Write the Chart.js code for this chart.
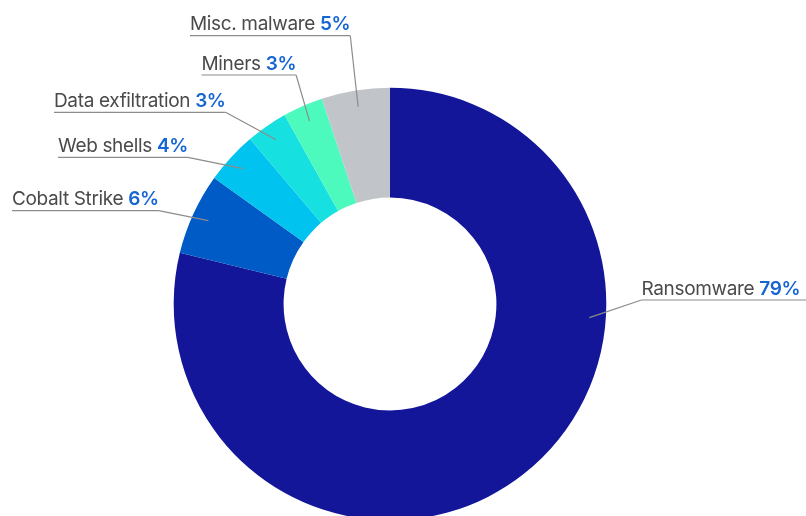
<!DOCTYPE html>
<html>
<head>
<meta charset="utf-8">
<script src="https://cdn.jsdelivr.net/npm/chart.js@4"></script>
<style>
  html, body { margin: 0; padding: 0; background: #fff; overflow: hidden; }
  #wrap { width: 806px; height: 516px; position: relative; }
  canvas { display: block; }
</style>
</head>
<body>
<div id="wrap"><canvas id="c" width="806" height="516"></canvas></div>
<script>
// ---- data ----
const categories = ['Ransomware', 'Cobalt Strike', 'Web shells', 'Data exfiltration', 'Miners', 'Misc. malware'];
const values = [78.8, 6.1, 3.9, 3.1, 3.0, 5.1];
const pctLabels = ['79%', '6%', '4%', '3%', '3%', '5%'];
const colors = ['#14169a', '#005bc6', '#00c3ef', '#17e0e0', '#4dfabd', '#c1c4c8'];

// ---- label layout (positions only) ----
const labelLayout = [
  { x: 641.5, lineY: 300,   side: 'right', angleDeg: 3.9 },
  { x: 12,    lineY: 210.7, side: 'left' },
  { x: 58,    lineY: 157.3, side: 'left' },
  { x: 54,    lineY: 112.3, side: 'left' },
  { x: 201.5, lineY: 75,    side: 'left' },
  { x: 190,   lineY: 35.7,  side: 'left' }
];

const FONT_SIZE = 19;
const FONT_FAMILY = 'Inter, "Open Sans", sans-serif';
const LETTER_SPACING = '-0.35px';

const calloutPlugin = {
  id: 'callouts',
  afterDraw(chart) {
    const ctx = chart.ctx;
    const meta = chart.getDatasetMeta(0);
    ctx.save();
    if ('letterSpacing' in ctx) ctx.letterSpacing = LETTER_SPACING;
    meta.data.forEach((arc, i) => {
      const p = arc.getProps(['x', 'y', 'startAngle', 'endAngle', 'outerRadius'], true);
      const lay = labelLayout[i];
      let ang = (p.startAngle + p.endAngle) / 2;
      if (lay.angleDeg !== undefined) ang = lay.angleDeg * Math.PI / 180;
      const r = p.outerRadius - 16.5;
      const ax = p.x + Math.cos(ang) * r;
      const ay = p.y + Math.sin(ang) * r;

      const name = categories[i] + ' ';
      const pct = pctLabels[i];
      ctx.font = '400 ' + FONT_SIZE + 'px ' + FONT_FAMILY;
      const wName = ctx.measureText(name).width;
      ctx.font = '600 ' + FONT_SIZE + 'px ' + FONT_FAMILY;
      const wPct = ctx.measureText(pct).width;
      const total = wName + wPct;

      const left = lay.x;
      const right = lay.side === 'right' ? chart.width : lay.x + total;
      const elbowX = lay.side === 'right' ? left : right;

      // leader + underline
      ctx.strokeStyle = '#8c8c8c';
      ctx.lineWidth = 1.2;
      ctx.beginPath();
      ctx.moveTo(ax, ay);
      ctx.lineTo(elbowX, lay.lineY);
      ctx.stroke();
      ctx.beginPath();
      ctx.moveTo(left, lay.lineY);
      ctx.lineTo(right, lay.lineY);
      ctx.stroke();

      // text
      const baseY = lay.lineY - 5.5;
      ctx.textBaseline = 'alphabetic';
      ctx.textAlign = 'left';
      ctx.font = '400 ' + FONT_SIZE + 'px ' + FONT_FAMILY;
      ctx.fillStyle = '#4a4a4a';
      ctx.fillText(name, left, baseY);
      ctx.font = '600 ' + FONT_SIZE + 'px ' + FONT_FAMILY;
      ctx.fillStyle = '#1565d2';
      ctx.fillText(pct, left + wName, baseY);
    });
    ctx.restore();
  }
};

new Chart(document.getElementById('c'), {
  type: 'doughnut',
  data: {
    labels: categories,
    datasets: [{
      data: values,
      backgroundColor: colors,
      borderWidth: 0
    }]
  },
  options: {
    responsive: false,
    animation: false,
    radius: 216.3,
    cutout: '49.2%',
    layout: { padding: { top: 92, right: 26, bottom: 0, left: 0 } },
    plugins: {
      legend: { display: false },
      tooltip: { enabled: false }
    }
  },
  plugins: [calloutPlugin]
});
</script>
</body>
</html>
